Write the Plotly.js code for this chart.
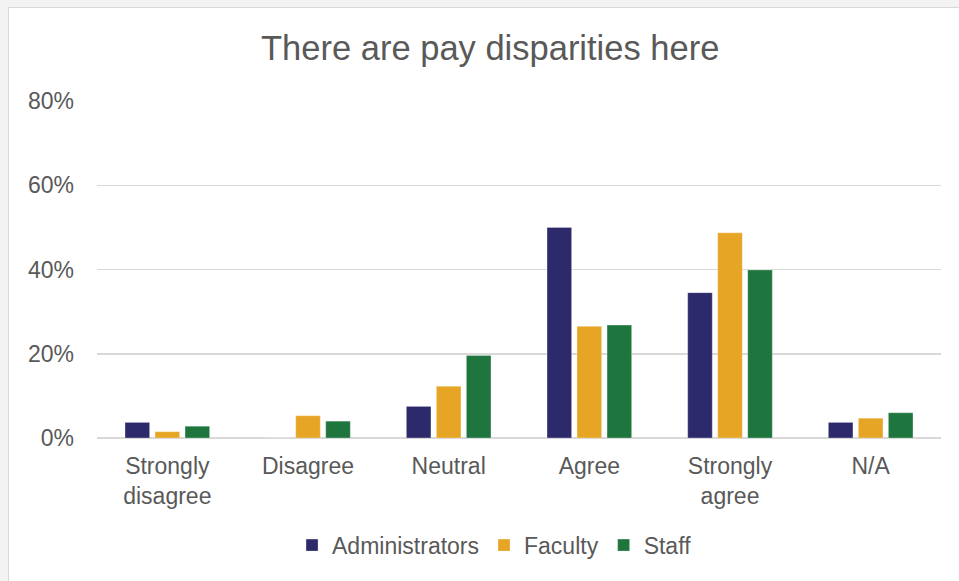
<!DOCTYPE html>
<html>
<head>
<meta charset="utf-8">
<script src="https://cdn.plot.ly/plotly-3.0.1.min.js"></script>
<style>
  html, body { margin: 0; padding: 0; background: #f3f3f3; width: 959px; height: 581px; overflow: hidden; }
  #frame { position: absolute; left: 8px; top: 7px; width: 951px; height: 574px; background: #ffffff;
           border-left: 1px solid #d9d9d9; border-top: 1px solid #d9d9d9; }
  #chart { width: 951px; height: 574px; }
</style>
</head>
<body>
<div id="frame"><div id="chart"></div></div>
<script>
const categories = ["Strongly<br>disagree", "Disagree", "Neutral", "Agree", "Strongly<br>agree", "N/A"];
const administrators = [0.037, 0, 0.075, 0.500, 0.345, 0.037];
const faculty = [0.015, 0.053, 0.123, 0.265, 0.487, 0.047];
const staff = [0.028, 0.040, 0.196, 0.268, 0.399, 0.060];
const seriesNames = ["Administrators", "Faculty", "Staff"];
const seriesColors = ["#2c2a6b", "#e6a525", "#1e763e"];
const yTicks = [0, 0.2, 0.4, 0.6, 0.8];
const yTickLabels = ["0%", "20%", "40%", "60%", "80%"];

const font = "Liberation Sans, Arial, sans-serif";
const textColor = "#595959";

const data = [administrators, faculty, staff].map((vals, i) => ({
  type: "bar",
  name: seriesNames[i],
  x: categories,
  y: vals,
  marker: { color: seriesColors[i], line: { color: "rgba(255,255,255,0.5)", width: 0.6 } },
  hoverinfo: "skip"
}));

const layout = {
  width: 951,
  height: 574,
  paper_bgcolor: "#ffffff",
  plot_bgcolor: "#ffffff",
  margin: { l: 88, r: 19, t: 93, b: 144 },
  font: { family: font, color: textColor, size: 23 },
  title: {
    text: "There are pay disparities here",
    font: { family: font, size: 34.5, color: textColor },
    xref: "container", x: 0.506, xanchor: "center",
    yref: "container", y: 0.93, yanchor: "middle"
  },
  barmode: "group",
  bargap: 0.36,
  bargroupgap: 0.18,
  xaxis: {
    type: "category",
    showgrid: false,
    showline: false,
    zeroline: false,
    ticks: "",
    tickfont: { family: font, size: 23, color: textColor },
    ticklabelstandoff: 12
  },
  yaxis: {
    range: [0, 0.8],
    tickvals: yTicks,
    ticktext: yTickLabels,
    showgrid: true,
    gridcolor: "#d9d9d9",
    gridwidth: 1.5,
    zeroline: true,
    zerolinecolor: "#d9d9d9",
    zerolinewidth: 1.5,
    showline: false,
    ticks: "",
    tickfont: { family: font, size: 23, color: textColor },
    ticklabelstandoff: 22
  },
  showlegend: true,
  legend: {
    orientation: "h",
    x: 0.471, xanchor: "center",
    y: -0.318, yanchor: "middle",
    font: { family: font, size: 23, color: textColor },
    itemwidth: 30,
    traceorder: "normal"
  }
};

Plotly.newPlot("chart", data, layout, { displayModeBar: false, staticPlot: true });
</script>
</body>
</html>
